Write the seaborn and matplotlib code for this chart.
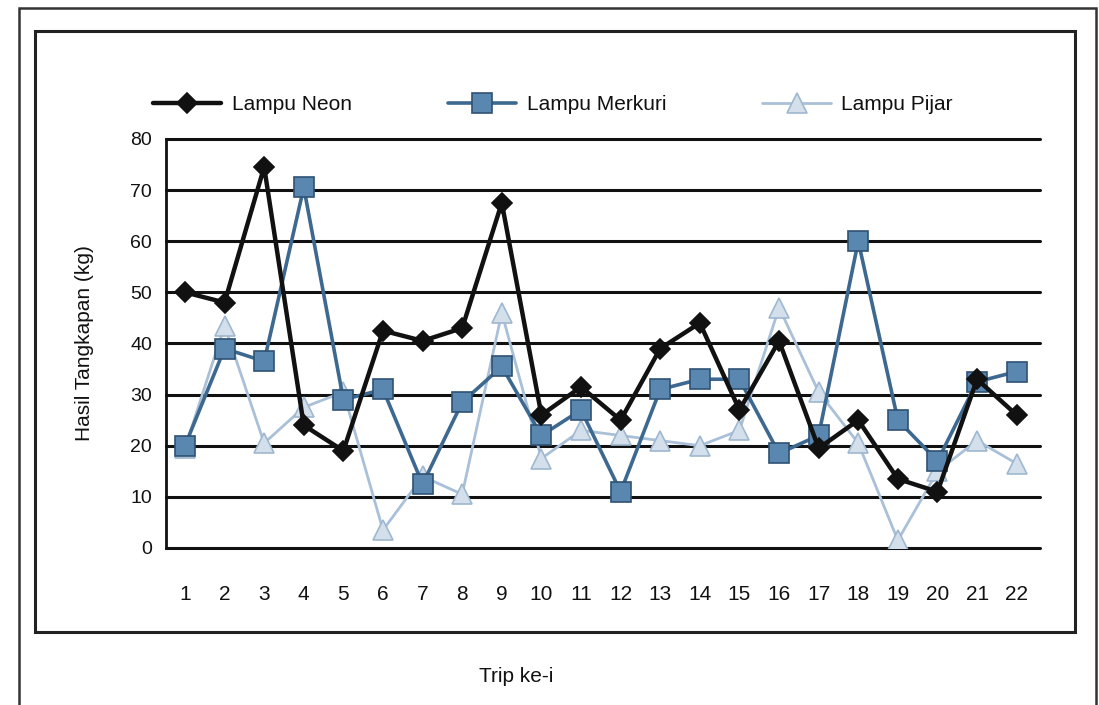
import numpy as np
import pandas as pd
import matplotlib
matplotlib.use("Agg")
import matplotlib.pyplot as plt
import seaborn as sns
from matplotlib.patches import Rectangle

# data
trip = list(range(1, 23))
neon = [50, 48, 74.5, 24, 19, 42.5, 40.5, 43, 67.5, 26, 31.5, 25, 39, 44, 27, 40.5, 19.5, 25, 13.5, 11, 33, 26]
merkuri = [20, 39, 36.5, 70.5, 29, 31, 12.5, 28.5, 35.5, 22, 27, 11, 31, 33, 33, 18.5, 22, 60, 25, 17, 32.5, 34.5]
pijar = [19.5, 43.5, 20.5, 27.5, 30.5, 3.5, 14, 10.5, 46, 17.5, 23, 22, 21, 20, 23, 47, 30.5, 20.5, 1.5, 15, 21, 16.5]

labels = ["Lampu Neon", "Lampu Merkuri", "Lampu Pijar"]
yticks = [0, 10, 20, 30, 40, 50, 60, 70, 80]

df = pd.DataFrame({"trip": trip, "Lampu Neon": neon,
                   "Lampu Merkuri": merkuri, "Lampu Pijar": pijar})
long = df.melt(id_vars="trip", var_name="lampu", value_name="kg")

sns.set_style("white")
plt.rcParams['font.family'] = ['Liberation Sans', 'DejaVu Sans']
plt.rcParams['text.color'] = '#111111'
plt.rcParams['xtick.color'] = '#111111'
plt.rcParams['ytick.color'] = '#111111'
plt.rcParams['axes.labelcolor'] = '#111111'

fig = plt.figure(figsize=(10.99, 7.05), dpi=100)
ax = fig.add_axes([0.151, 0.2227, 0.795, 0.5803])

# styles for each series
sty = {
    "Lampu Neon": dict(color="#111111", marker="D", lw=3.2, ms=10, mfc="#111111", mec="#111111"),
    "Lampu Merkuri": dict(color="#3d6890", marker="s", lw=2.6, ms=15, mfc="#5a87b0", mec="#2f5273"),
    "Lampu Pijar": dict(color="#a9c0d8", marker="^", lw=2.0, ms=15, mfc="#d3e0ec", mec="#9fb7cf"),
}
# draw the light series first so dark lines sit on top
for name in ["Lampu Pijar", "Lampu Merkuri", "Lampu Neon"]:
    s = sty[name]
    sns.lineplot(data=long[long["lampu"] == name], x="trip", y="kg", ax=ax,
                 color=s["color"], marker=s["marker"], linewidth=s["lw"],
                 markersize=s["ms"], markerfacecolor=s["mfc"],
                 markeredgecolor=s["mec"], markeredgewidth=1.2,
                 label=name, legend=False)

ax.set_xlim(0.52, 22.58)
ax.set_ylim(0, 80)
ax.set_yticks(yticks)
ax.set_xticks(trip)
ax.set_xticklabels([str(t) for t in trip])
for y in yticks:
    ax.axhline(y, color="#111111", lw=2.2, zorder=0, clip_on=False)
for sp in ["top", "right", "bottom"]:
    ax.spines[sp].set_visible(False)
ax.spines["left"].set_color("#111111")
ax.spines["left"].set_linewidth(2)
ax.tick_params(axis="x", length=0, pad=27, labelsize=15)
ax.tick_params(axis="y", length=0, pad=10, labelsize=14)
ax.set_xlabel("")
ax.set_ylabel("Hasil Tangkapan (kg)", fontsize=15, labelpad=26)

# legend in the order of the original
handles, lbls = ax.get_legend_handles_labels()
order = [lbls.index(l) for l in labels]
fig.legend([handles[i] for i in order], labels, loc="center",
           bbox_to_anchor=(0.503, 0.852), ncol=3, frameon=False,
           fontsize=15, handlelength=3.3, columnspacing=4.6, handletextpad=0.5)

fig.text(0.47, 0.04, "Trip ke-i", ha="center", va="center", fontsize=15)

# scanned frame boxes
fig.patches.append(Rectangle((0.032, 0.1035), 0.946, 0.853, transform=fig.transFigure,
                             fill=False, lw=2.2, ec="#222222"))
fig.patches.append(Rectangle((0.017, -0.05), 0.98, 1.038, transform=fig.transFigure,
                             fill=False, lw=1.8, ec="#333333"))

plt.savefig("out.png", dpi=100)
